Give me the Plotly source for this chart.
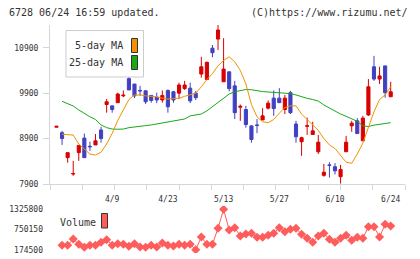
import plotly.graph_objects as go

W, H = 420, 259

dates = ["3/26", "3/27", "3/30", "3/31",
         "4/1", "4/2", "4/3", "4/6", "4/7", "4/8", "4/9", "4/10", "4/13", "4/14", "4/15",
         "4/16", "4/17", "4/20", "4/21", "4/22", "4/23", "4/24", "4/27", "4/28", "4/30",
         "5/1", "5/7", "5/8", "5/11", "5/12", "5/13", "5/14", "5/15", "5/18", "5/19",
         "5/20", "5/21", "5/22", "5/25", "5/26", "5/27", "5/28", "5/29",
         "6/1", "6/2", "6/3", "6/4", "6/5", "6/8", "6/9", "6/10", "6/11", "6/12",
         "6/15", "6/16", "6/17", "6/18", "6/19", "6/22", "6/23", "6/24"]
label_dates = ["4/9", "4/23", "5/13", "5/27", "6/10", "6/24"]

open_ = [9150, 9030, 8480, 8120, 8590, 8910, 8730, 8760, 9090, 9650,
         9620, 9690, 9840, 10220, 10100, 9960, 9950, 9850, 9810, 9750,
         9960, 9930, 9900, 10000, 10010, 9900, 10320, 10200, 10890, 11090,
         10150, 10370, 10060, 9590, 9540, 9180, 9200, 9310, 9570, 9790,
         9790, 9540, 9910, 9220, 8830, 9170, 8990, 8610, 8090, 8320,
         8280, 8060, 8610, 9180, 9290, 8850, 9420, 10480, 10210, 10500, 9820]
high = [9170, 9070, 8590, 8410, 8750, 9010, 8830, 9000, 9160, 9770,
        9620, 9910, 9960, 10250, 10100, 10060, 9970, 9850, 9910, 9960,
        9980, 9950, 10130, 10170, 10130, 9950, 10700, 10590, 10960, 11400,
        11110, 10370, 10170, 9650, 9620, 9180, 9330, 9570, 9740, 9960,
        10010, 9860, 9950, 9290, 8940, 9360, 9270, 8980, 8340, 8380,
        8360, 8320, 8960, 9290, 9350, 9400, 10210, 10720, 10480, 10500, 10150]
low = [9150, 8760, 8370, 8080, 8410, 8480, 8630, 8760, 8810, 9470,
       9470, 9690, 9810, 9970, 9790, 9840, 9660, 9690, 9680, 9690,
       9470, 9690, 9770, 9970, 9680, 9750, 10240, 10190, 10690, 10850,
       10150, 9940, 9330, 9290, 9140, 8810, 9020, 9310, 9540, 9400,
       9690, 9440, 9440, 8810, 8520, 8980, 8980, 8560, 8060, 8040,
       8110, 7910, 8610, 9050, 9010, 8850, 9400, 10170, 10100, 9800, 9820]
close = [9170, 8900, 8590, 8130, 8750, 8480, 8720, 8850, 8900, 9710,
         9540, 9880, 9855, 9970, 9840, 9950, 9710, 9740, 9750, 9850,
         9600, 9750, 10080, 10080, 9730, 9800, 10480, 10580, 10790, 11290,
         10430, 10000, 9470, 9610, 9210, 8880, 9190, 9400, 9680, 9560,
         9690, 9790, 9470, 8940, 8920, 9180, 9070, 8820, 8160, 8310,
         8190, 8220, 8820, 9240, 9010, 9350, 10040, 10210, 10280, 9910, 9930]

ma5 = [None, 8994, 8990, 8978, 8780, 8660, 8560, 8538, 8600, 8780,
       9016, 9300, 9540, 9760, 9860, 9860, 9840, 9830, 9820, 9790,
       9770, 9780, 9786, 9830, 9870, 9900, 10040, 10200, 10330, 10500,
       10620, 10700, 10590, 10400, 10100, 9650, 9380, 9270, 9250, 9320,
       9460, 9580, 9620, 9620, 9440, 9320, 9200, 9080, 8900, 8760,
       8680, 8540, 8380, 8355, 8560, 8800, 9161, 9490, 9760, 9860, 10042]
ma25 = [None, 9720, 9670, 9617, 9530, 9450, 9380, 9320, 9200, 9140,
        9110, 9105, 9110, 9140, 9160, 9170, 9185, 9200, 9220, 9240,
        9275, 9290, 9310, 9331, 9400, 9420, 9440, 9510, 9600, 9710,
        9800, 9880, 9930, 9955, 9980, 9975, 9950, 9935, 9925, 9920,
        9910, 9900, 9890, 9860, 9815, 9785, 9760, 9725, 9640, 9570,
        9510, 9440, 9390, 9330, 9280, 9180, 9165, 9195, 9215, 9235, 9250]

volume = [None, 300000, 300000, 479000, 328000, 243000, 300000, 300000, 385000, 459000,
          300000, 345000, 328000, 271000, 345000, 251000, 243000, 300000, 251000, 365000,
          300000, 280000, 328000, 300000, 328000, 174500, 536000, 328000, 328000, 784000,
          1325800, 736000, 801500, 565000, 622000, 642000, 528000, 528000, 585000, 642000,
          801500, 687500, 756000, 784000, 613000, 499000, 385000, 565000, 642000, 471000,
          385000, 499000, 585000, 442000, 528000, 499000, 830000, 830000, 536000, 898000, 850000]

price_ticks = [7900, 8900, 9900, 10900]
vol_ticks = [174500, 750150, 1325800]

RED = "#d80000"
BLUE = "#4040c0"
ORANGE = "#f39200"
GREEN = "#18a818"
VOLC = "#ff5c5c"
AXC = "#d6d6d6"
TXT = "#333333"
MONO = "DejaVu Sans Mono"

x = list(range(len(dates)))


def px_x(p):
    return p / W


def px_y(p):
    return 1 - p / H


X0, X1 = 50, 405
step = 5.57
first_px = 56.5
xr = [(X0 - first_px) / step, (X1 - first_px) / step]
grid = [xr[0] + (xr[1] - xr[0]) * k / 11 for k in range(12)]

fig = go.Figure()
fig.add_trace(go.Candlestick(
    x=x, open=open_, high=high, low=low, close=close,
    increasing=dict(line=dict(color=RED, width=1), fillcolor=RED),
    decreasing=dict(line=dict(color=BLUE, width=1), fillcolor=BLUE),
    whiskerwidth=0, showlegend=False, hoverinfo="skip",
    xaxis="x", yaxis="y"))
fig.add_trace(go.Scatter(x=x, y=ma25, mode="lines", line=dict(color=GREEN, width=1),
                         showlegend=False, xaxis="x", yaxis="y"))
fig.add_trace(go.Scatter(x=x, y=ma5, mode="lines", line=dict(color=ORANGE, width=1),
                         showlegend=False, xaxis="x", yaxis="y"))
fig.add_trace(go.Scatter(x=x, y=volume, mode="lines+markers",
                         line=dict(color=VOLC, width=1),
                         marker=dict(symbol="diamond", size=7, color=VOLC),
                         showlegend=False, xaxis="x2", yaxis="y2"))

tick_idx = [dates.index(d) for d in label_dates]

fig.update_layout(
    width=W, height=H, autosize=False,
    margin=dict(l=0, r=0, t=0, b=0, pad=0, autoexpand=False),
    paper_bgcolor="white", plot_bgcolor="white",
    boxgap=0.2,
    showlegend=False,
    xaxis=dict(domain=[px_x(X0), px_x(X1)], range=xr, anchor="y", automargin=False,
               showgrid=False, zeroline=False, showline=True, linecolor=AXC, linewidth=1,
               rangeslider=dict(visible=False),
               tickmode="array", tickvals=tick_idx, ticktext=label_dates,
               ticks="", ticklabelstandoff=7,
               tickfont=dict(family=MONO, size=8, color=TXT),
               minor=dict(tickmode="array", tickvals=grid, ticks="outside", ticklen=5,
                          tickcolor=AXC, tickwidth=1, showgrid=False)),
    yaxis=dict(domain=[px_y(184), px_y(25)], range=[7900, 11400], anchor="x", automargin=False,
               showgrid=False, zeroline=False, showline=True, linecolor=AXC, linewidth=1,
               tickmode="array", tickvals=price_ticks, ticktext=[str(v) for v in price_ticks],
               ticks="outside", ticklen=6, tickcolor=AXC, ticklabelstandoff=3,
               tickfont=dict(family=MONO, size=8, color=TXT)),
    xaxis2=dict(domain=[px_x(X0), px_x(X1)], range=xr, anchor="y2", matches="x",
                visible=False, automargin=False),
    yaxis2=dict(domain=[px_y(253), px_y(206)], range=[80460, 1419840], anchor="x2",
                automargin=False,
                showgrid=False, zeroline=False, showline=False,
                tickmode="array", tickvals=vol_ticks, ticktext=[str(v) for v in vol_ticks],
                ticks="", ticklabelstandoff=6,
                tickfont=dict(family=MONO, size=8, color=TXT)),
)

ann = [
    dict(text="6728 06/24 16:59 updated.", x=px_x(7), y=px_y(12), xanchor="left"),
    dict(text="(C)https://www.rizumu.net/", x=px_x(410), y=px_y(12), xanchor="right"),
    dict(text="5-day MA", x=px_x(125), y=px_y(46), xanchor="right"),
    dict(text="25-day MA", x=px_x(125), y=px_y(63), xanchor="right"),
    dict(text="Volume", x=px_x(58), y=px_y(222), xanchor="left"),
]
for a in ann:
    fig.add_annotation(xref="paper", yref="paper", showarrow=False, yanchor="middle",
                       font=dict(family=MONO, size=10, color=TXT), **a)


def rect(x0, y0, x1, y1, fill, line, lw=1):
    fig.add_shape(type="rect", xref="paper", yref="paper",
                  x0=px_x(x0), x1=px_x(x1), y0=px_y(y0), y1=px_y(y1),
                  fillcolor=fill, line=dict(color=line, width=lw), layer="above")


rect(66, 30.5, 143.5, 77, "white", "#cccccc")
rect(131.5, 38.5, 137.5, 52.5, ORANGE, "#333333")
rect(131.5, 55.5, 137.5, 69.5, GREEN, "#333333")
rect(101.5, 213.5, 107.5, 228, VOLC, "#333333")

fig.write_html("out.html")
